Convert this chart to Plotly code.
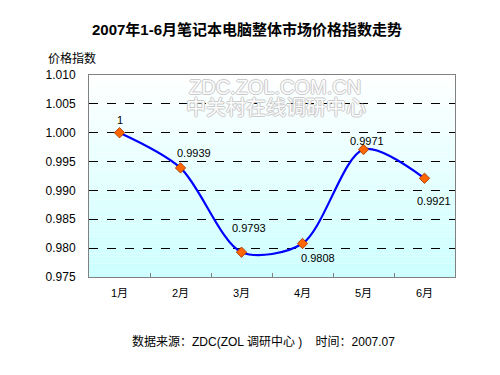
import plotly.graph_objects as go

months = ["1月", "2月", "3月", "4月", "5月", "6月"]
values = [1.0, 0.9939, 0.9793, 0.9808, 0.9971, 0.9921]
labels = ["1", "0.9939", "0.9793", "0.9808", "0.9971", "0.9921"]
y_ticks = [0.975, 0.980, 0.985, 0.990, 0.995, 1.000, 1.005, 1.010]

FONT = "Liberation Sans, Arial, Noto Sans CJK SC, sans-serif"

fig = go.Figure()
fig.add_trace(go.Scatter(
    x=months, y=values, mode="lines",
    line=dict(color="#0000ff", width=2.2, shape="spline", smoothing=0.85),
    hoverinfo="skip", showlegend=False))
fig.add_trace(go.Scatter(
    x=months, y=values, mode="markers",
    marker=dict(symbol="diamond", size=8, color="#ff6600",
                line=dict(color="#993300", width=0.8)),
    showlegend=False))

# label offsets (style only)
xsh = [0, 13, 7, 15, 3, 9]
ysh = [13, 15, 24, -14, 8, -23]
for m, v, t, dx, dy in zip(months, values, labels, xsh, ysh):
    fig.add_annotation(x=m, y=v, text=t, showarrow=False, xanchor="center", yanchor="middle",
                       xshift=dx, yshift=dy, font=dict(size=11, color="#000"))

# gradient background
n = 60
for i in range(n):
    f = i / (n - 1)
    r = int(255 + (204 - 255) * f)
    fig.add_shape(type="rect", xref="x domain", yref="y domain",
                  x0=0, x1=1, y0=1 - (i + 1) / n, y1=1 - i / n,
                  fillcolor=f"rgb({r},255,255)", line_width=0, layer="below")

# watermark (outlined text)
oc = "#c8c8c8"
wm_shadow = f"1px 0 0 {oc}, -1px 0 0 {oc}, 0 1px 0 {oc}, 0 -1px 0 {oc}"
fig.add_annotation(xref="paper", yref="paper", x=0.508, y=0.943, yanchor="middle",
                   text="ZDC.ZOL.COM.CN", showarrow=False,
                   font=dict(size=20, color="rgba(255,255,255,0.95)", family=FONT, shadow=wm_shadow))
fig.add_annotation(xref="paper", yref="paper", x=0.511, y=0.835, yanchor="middle",
                   text="中关村在线调研中心", showarrow=False,
                   font=dict(size=20, color="rgba(255,255,255,0.95)", family=FONT, shadow=wm_shadow))

fig.update_layout(
    width=500, height=375,
    margin=dict(l=81, r=53, t=67, b=106, autoexpand=False),
    paper_bgcolor="white", plot_bgcolor="rgba(0,0,0,0)",
    font=dict(family=FONT, size=11, color="#000"),
    title=dict(text="<b>2007年1-6月笔记本电脑整体市场价格指数走势</b>", x=0.478, xanchor="center",
               y=0.941, yanchor="middle", yref="container", font=dict(size=15, color="#000")),
    xaxis=dict(type="category", showgrid=False, ticks="inside", tickson="boundaries",
               ticklen=4, tickcolor="#808080", showline=True, linecolor="#808080",
               mirror=True, linewidth=1, range=[-0.5, 5.5], tickfont=dict(size=11),
               ticklabelstandoff=6, automargin=False),
    yaxis=dict(range=[0.975, 1.010], tickvals=y_ticks, tickformat=".3f",
               showgrid=True, gridcolor="#000", griddash="dash", gridwidth=1,
               showline=True, linecolor="#808080", mirror=True, linewidth=1,
               zeroline=False, ticks="", tickfont=dict(size=12), ticklabelstandoff=10,
               automargin=False),
)
fig.add_annotation(xref="paper", yref="paper", x=-0.046, y=1.084, xanchor="center", yanchor="middle",
                   text="价格指数", showarrow=False, font=dict(size=12))
fig.add_annotation(xref="paper", yref="paper", x=0.478, y=-0.317, xanchor="center", yanchor="middle",
                   text="数据来源：ZDC(ZOL 调研中心 )&nbsp;&nbsp;&nbsp;&nbsp;时间：2007.07",
                   showarrow=False, font=dict(size=12))

fig.write_html("out.html")
